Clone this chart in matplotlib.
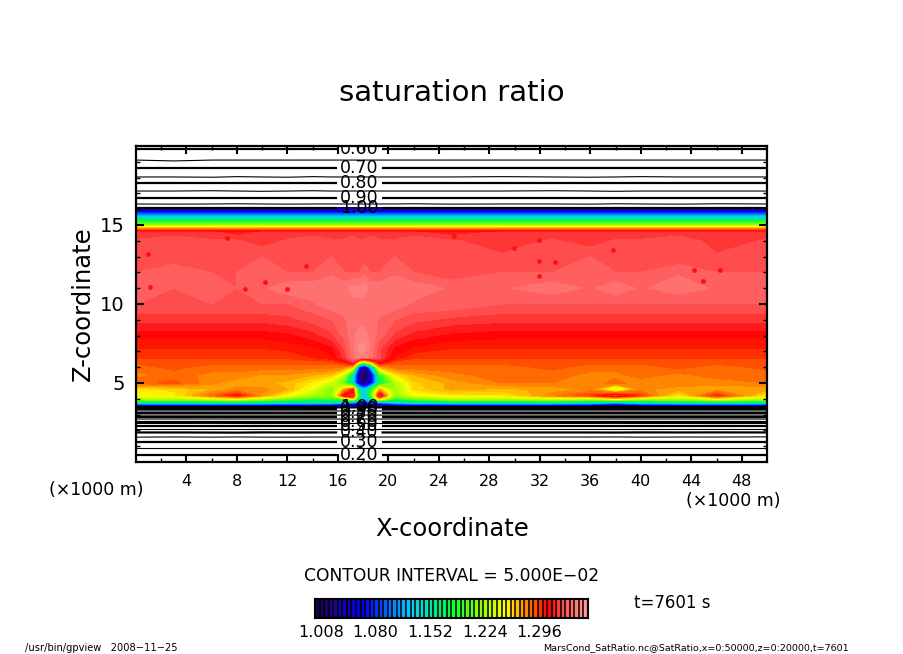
import matplotlib
matplotlib.use('Agg')
import matplotlib.pyplot as plt
from matplotlib.colors import LinearSegmentedColormap

W, H = 904, 654

# x positions of the table columns (km), denser around the tower at x=18
x_cols = [0, 3, 6, 8, 10, 12, 14, 15.5, 16.5, 17.2, 17.7, 18.1, 18.6, 19.3, 20.5,
          22, 25, 29, 33, 36, 38, 40, 43, 46, 50]

# heights of the table rows (km)
z_rows = [0.0, 0.44, 0.89, 1.27, 1.58, 1.87, 2.09, 2.28, 2.44, 2.56, 2.72, 2.85, 2.97,
          3.10, 3.23, 3.35, 3.42, 3.48,
          3.6, 3.75, 3.95, 4.2, 4.6, 5.0, 5.5, 6.0, 6.3, 6.6, 7.2, 8.0, 9.0, 10.0, 11.0,
          12.0, 13.0, 14.0, 14.5, 14.65, 14.8, 15.0, 15.3, 15.6, 15.85,
          16.08, 16.33, 16.7, 17.15, 17.63, 18.04, 18.6, 19.11, 19.81, 20.0]

# saturation ratio, one row per z_rows entry
sat_ratio = [
    [.170, .170, .170, .170, .170, .170, .170, .170, .170, .170, .170, .170, .170, .170, .170, .170, .170, .170, .170, .170, .170, .170, .170, .170, .170],
    [.200, .200, .200, .200, .200, .200, .200, .200, .200, .200, .200, .200, .200, .200, .200, .200, .200, .200, .200, .200, .200, .200, .200, .200, .200],
    [.250, .250, .250, .250, .250, .250, .250, .250, .250, .250, .250, .250, .250, .250, .250, .250, .250, .250, .250, .250, .250, .250, .250, .250, .250],
    [.300, .300, .300, .300, .300, .300, .300, .300, .300, .300, .300, .300, .300, .300, .300, .300, .300, .300, .300, .300, .300, .300, .300, .300, .300],
    [.351, .349, .351, .349, .351, .351, .350, .350, .350, .350, .350, .350, .350, .350, .350, .350, .350, .350, .350, .350, .349, .351, .350, .350, .348],
    [.400, .400, .401, .402, .399, .400, .400, .400, .400, .400, .400, .400, .400, .400, .400, .400, .400, .400, .400, .400, .401, .399, .400, .399, .400],
    [.450, .450, .450, .450, .450, .450, .450, .450, .450, .450, .450, .450, .450, .450, .450, .450, .450, .450, .450, .450, .450, .450, .450, .450, .450],
    [.500, .500, .500, .500, .500, .500, .500, .500, .500, .500, .500, .500, .500, .500, .500, .500, .500, .500, .500, .500, .500, .500, .500, .500, .500],
    [.550, .550, .548, .550, .552, .550, .550, .550, .550, .550, .550, .550, .550, .550, .550, .550, .550, .550, .550, .550, .548, .550, .550, .552, .550],
    [.600, .600, .600, .600, .600, .600, .600, .600, .600, .600, .600, .600, .600, .600, .600, .600, .600, .600, .600, .600, .600, .600, .600, .600, .600],
    [.650, .650, .650, .650, .650, .650, .650, .650, .650, .650, .650, .650, .650, .650, .650, .650, .650, .650, .650, .650, .650, .650, .650, .650, .650],
    [.700, .700, .700, .700, .700, .700, .700, .700, .700, .700, .700, .700, .700, .700, .700, .700, .700, .700, .700, .700, .700, .700, .700, .700, .700],
    [.750, .750, .750, .750, .750, .750, .750, .750, .750, .750, .750, .750, .750, .750, .750, .750, .750, .750, .750, .750, .750, .750, .750, .750, .750],
    [.800, .800, .800, .800, .800, .800, .800, .800, .800, .800, .800, .800, .800, .800, .800, .800, .800, .800, .800, .800, .800, .800, .800, .800, .800],
    [.850, .850, .850, .850, .850, .850, .850, .850, .850, .850, .850, .850, .850, .850, .850, .850, .850, .850, .850, .850, .850, .850, .850, .850, .850],
    [.900, .900, .900, .900, .900, .900, .900, .900, .900, .900, .900, .900, .900, .900, .900, .900, .900, .900, .900, .900, .900, .900, .900, .900, .900],
    [.950, .950, .950, .950, .950, .950, .950, .950, .950, .950, .950, .950, .950, .950, .950, .950, .950, .950, .950, .950, .950, .950, .950, .950, .950],
    [1.00, 1.00, 1.00, 1.00, 1.00, 1.00, 1.00, 1.00, 1.00, 1.00, 1.00, 1.00, 1.00, 1.00, 1.00, 1.00, 1.00, 1.00, 1.00, 1.00, 1.00, 1.00, 1.00, 1.00, 1.00],
    [1.06, 1.06, 1.06, 1.06, 1.06, 1.06, 1.06, 1.05, 1.04, 1.03, 1.02, 1.02, 1.02, 1.03, 1.04, 1.06, 1.06, 1.06, 1.06, 1.05, 1.03, 1.05, 1.06, 1.06, 1.06],
    [1.15, 1.15, 1.15, 1.15, 1.15, 1.14, 1.14, 1.14, 1.12, 1.10, 1.08, 1.06, 1.08, 1.10, 1.13, 1.14, 1.15, 1.15, 1.15, 1.14, 1.12, 1.14, 1.15, 1.15, 1.15],
    [1.22, 1.22, 1.23, 1.24, 1.22, 1.20, 1.19, 1.19, 1.20, 1.24, 1.15, 1.12, 1.14, 1.25, 1.18, 1.20, 1.22, 1.22, 1.23, 1.22, 1.24, 1.22, 1.22, 1.24, 1.22],
    [1.25, 1.255, 1.285, 1.305, 1.275, 1.25, 1.225, 1.22, 1.31, 1.32, 1.17, 1.12, 1.20, 1.32, 1.22, 1.245, 1.255, 1.255, 1.28, 1.295, 1.32, 1.295, 1.255, 1.30, 1.255],
    [1.255, 1.26, 1.27, 1.278, 1.278, 1.27, 1.245, 1.21, 1.27, 1.30, 1.15, 1.12, 1.18, 1.27, 1.22, 1.26, 1.272, 1.268, 1.272, 1.278, 1.23, 1.278, 1.272, 1.272, 1.272],
    [1.285, 1.29, 1.278, 1.272, 1.272, 1.268, 1.255, 1.235, 1.20, 1.14, 1.03, 1.02, 1.05, 1.17, 1.225, 1.262, 1.272, 1.282, 1.282, 1.278, 1.285, 1.278, 1.282, 1.278, 1.282],
    [1.28, 1.285, 1.28, 1.28, 1.275, 1.275, 1.27, 1.265, 1.235, 1.15, 1.015, 1.005, 1.03, 1.19, 1.255, 1.27, 1.28, 1.285, 1.285, 1.28, 1.28, 1.285, 1.28, 1.285, 1.285],
    [1.285, 1.29, 1.285, 1.285, 1.285, 1.285, 1.285, 1.285, 1.28, 1.26, 1.07, 1.02, 1.12, 1.27, 1.285, 1.285, 1.285, 1.285, 1.29, 1.285, 1.285, 1.285, 1.29, 1.285, 1.29],
    [1.29, 1.29, 1.29, 1.29, 1.29, 1.29, 1.29, 1.29, 1.30, 1.32, 1.24, 1.22, 1.26, 1.31, 1.29, 1.29, 1.29, 1.29, 1.29, 1.29, 1.29, 1.29, 1.29, 1.29, 1.29],
    [1.295, 1.295, 1.295, 1.295, 1.295, 1.295, 1.30, 1.305, 1.32, 1.338, 1.345, 1.345, 1.338, 1.325, 1.305, 1.295, 1.295, 1.295, 1.295, 1.295, 1.295, 1.295, 1.295, 1.295, 1.295],
    [1.30, 1.30, 1.30, 1.30, 1.30, 1.302, 1.305, 1.31, 1.325, 1.34, 1.35, 1.35, 1.34, 1.325, 1.31, 1.305, 1.30, 1.30, 1.30, 1.30, 1.30, 1.30, 1.30, 1.30, 1.30],
    [1.308, 1.308, 1.308, 1.308, 1.308, 1.31, 1.315, 1.322, 1.332, 1.34, 1.345, 1.345, 1.34, 1.333, 1.322, 1.315, 1.31, 1.308, 1.308, 1.308, 1.308, 1.308, 1.308, 1.308, 1.308],
    [1.32, 1.32, 1.32, 1.32, 1.32, 1.322, 1.326, 1.33, 1.335, 1.34, 1.34, 1.34, 1.34, 1.335, 1.33, 1.326, 1.322, 1.32, 1.32, 1.32, 1.32, 1.32, 1.32, 1.32, 1.32],
    [1.33, 1.33, 1.33, 1.33, 1.33, 1.33, 1.335, 1.34, 1.34, 1.34, 1.34, 1.34, 1.34, 1.34, 1.34, 1.335, 1.335, 1.33, 1.33, 1.33, 1.33, 1.33, 1.33, 1.33, 1.33],
    [1.335, 1.33, 1.335, 1.33, 1.335, 1.34, 1.34, 1.34, 1.34, 1.345, 1.345, 1.345, 1.34, 1.34, 1.34, 1.34, 1.335, 1.335, 1.34, 1.335, 1.34, 1.335, 1.34, 1.335, 1.335],
    [1.33, 1.335, 1.33, 1.33, 1.335, 1.33, 1.33, 1.335, 1.33, 1.33, 1.33, 1.335, 1.33, 1.33, 1.335, 1.33, 1.325, 1.33, 1.33, 1.335, 1.33, 1.33, 1.335, 1.33, 1.33],
    [1.33, 1.325, 1.33, 1.33, 1.33, 1.325, 1.33, 1.33, 1.325, 1.33, 1.33, 1.325, 1.33, 1.33, 1.33, 1.325, 1.33, 1.325, 1.33, 1.33, 1.325, 1.33, 1.325, 1.325, 1.33],
    [1.325, 1.33, 1.325, 1.325, 1.32, 1.325, 1.33, 1.325, 1.325, 1.33, 1.325, 1.325, 1.33, 1.325, 1.325, 1.33, 1.325, 1.32, 1.325, 1.32, 1.325, 1.325, 1.33, 1.32, 1.325],
    [1.32, 1.32, 1.32, 1.315, 1.32, 1.32, 1.32, 1.32, 1.32, 1.32, 1.32, 1.32, 1.32, 1.32, 1.32, 1.32, 1.315, 1.32, 1.32, 1.32, 1.32, 1.32, 1.32, 1.32, 1.32],
    [1.30, 1.30, 1.30, 1.30, 1.30, 1.30, 1.30, 1.30, 1.30, 1.30, 1.30, 1.30, 1.30, 1.30, 1.30, 1.30, 1.30, 1.30, 1.30, 1.30, 1.30, 1.30, 1.30, 1.30, 1.30],
    [1.27, 1.27, 1.27, 1.27, 1.27, 1.27, 1.27, 1.27, 1.27, 1.27, 1.27, 1.27, 1.27, 1.27, 1.27, 1.27, 1.27, 1.27, 1.27, 1.27, 1.27, 1.27, 1.27, 1.27, 1.27],
    [1.22, 1.22, 1.22, 1.22, 1.22, 1.22, 1.22, 1.22, 1.22, 1.22, 1.22, 1.22, 1.22, 1.22, 1.22, 1.22, 1.22, 1.22, 1.22, 1.22, 1.22, 1.22, 1.22, 1.22, 1.22],
    [1.17, 1.17, 1.17, 1.17, 1.17, 1.17, 1.17, 1.17, 1.17, 1.17, 1.17, 1.17, 1.17, 1.17, 1.17, 1.17, 1.17, 1.17, 1.17, 1.17, 1.17, 1.17, 1.17, 1.17, 1.17],
    [1.11, 1.11, 1.11, 1.11, 1.11, 1.11, 1.11, 1.11, 1.11, 1.11, 1.11, 1.11, 1.11, 1.11, 1.11, 1.11, 1.11, 1.11, 1.11, 1.11, 1.11, 1.11, 1.11, 1.11, 1.11],
    [1.06, 1.06, 1.06, 1.06, 1.06, 1.06, 1.06, 1.06, 1.06, 1.06, 1.06, 1.06, 1.06, 1.06, 1.06, 1.06, 1.06, 1.06, 1.06, 1.06, 1.06, 1.06, 1.06, 1.06, 1.06],
    [1.00, 1.00, 1.00, 1.00, 1.00, 1.00, 1.00, 1.00, 1.00, 1.00, 1.00, 1.00, 1.00, 1.00, 1.00, 1.00, 1.00, 1.00, 1.00, 1.00, 1.00, 1.00, 1.00, 1.00, 1.00],
    [.950, .948, .950, .952, .950, .948, .950, .950, .950, .950, .950, .950, .950, .950, .950, .952, .948, .950, .950, .948, .952, .950, .948, .952, .950],
    [.900, .900, .900, .900, .900, .900, .900, .900, .900, .900, .900, .900, .900, .900, .900, .900, .900, .900, .900, .900, .900, .900, .900, .900, .900],
    [.850, .850, .852, .850, .848, .850, .852, .850, .850, .850, .850, .850, .850, .850, .850, .850, .850, .850, .852, .850, .848, .850, .850, .850, .850],
    [.800, .800, .800, .800, .800, .800, .800, .800, .800, .800, .800, .800, .800, .800, .800, .800, .800, .800, .800, .800, .800, .800, .800, .800, .800],
    [.750, .750, .748, .752, .750, .748, .752, .750, .750, .750, .750, .750, .750, .750, .750, .750, .750, .752, .750, .748, .750, .752, .750, .750, .750],
    [.700, .700, .700, .700, .700, .700, .700, .700, .700, .700, .700, .700, .700, .700, .700, .700, .700, .700, .700, .700, .700, .700, .700, .700, .700],
    [.650, .644, .650, .650, .650, .650, .650, .650, .650, .650, .650, .650, .650, .650, .650, .650, .650, .650, .650, .650, .650, .650, .650, .650, .650],
    [.600, .600, .600, .600, .600, .600, .600, .600, .600, .600, .600, .600, .600, .600, .600, .600, .600, .600, .600, .600, .600, .600, .600, .600, .600],
    [.580, .580, .580, .580, .580, .580, .580, .580, .580, .580, .580, .580, .580, .580, .580, .580, .580, .580, .580, .580, .580, .580, .580, .580, .580],
]

# small saturated spots in the upper cloud
spot_x = [25.2, 29.95, 31.9, 31.9, 33.2, 31.9, 37.8, 44.2, 46.3, 44.9, 0.95, 7.2, 13.5, 1.1, 8.6, 12.0, 10.2]
spot_z = [14.3, 13.54, 14.07, 12.74, 12.66, 11.77, 13.42, 12.15, 12.15, 11.47, 13.16, 14.18, 12.4, 11.1, 10.95, 10.95, 11.4]

fill_levels = [1.0 + 0.006 * i for i in range(61)]
line_major = [0.20, 0.30, 0.40, 0.50, 0.60, 0.70, 0.80, 0.90, 1.00]
line_minor = [0.25, 0.35, 0.45, 0.55, 0.65, 0.75, 0.85, 0.95]

x_ticks = [4, 8, 12, 16, 20, 24, 28, 32, 36, 40, 44, 48]
z_ticks = [5, 10, 15]
bar_ticks = [1.008, 1.080, 1.152, 1.224, 1.296]

# contour label heights, top group and bottom group
label_top = [19.81, 18.6, 17.63, 16.7, 16.08]
label_bottom = [0.44, 1.27, 1.87, 2.28, 2.56, 2.85, 3.10, 3.35, 3.48]

cmap = LinearSegmentedColormap.from_list('gpview', [
    (0.00, '#140040'), (0.06, '#20008c'), (0.18, '#0000ff'), (0.35, '#00d0ff'),
    (0.50, '#00ff40'), (0.62, '#a0ff00'), (0.70, '#ffff00'), (0.78, '#ff8000'),
    (0.855, '#ff0000'), (0.92, '#ff5a5a'), (1.00, '#ffa0a0')])


def px_axes(fig, left, top, right, bottom):
    return fig.add_axes([left / W, 1 - bottom / H, (right - left) / W, (bottom - top) / H])


def fig_text(fig, x, y, s, size, **kw):
    kw.setdefault('ha', 'center')
    fig.text(x / W, 1 - y / H, s, fontsize=size, va='center', color='black', **kw)


fig = plt.figure(figsize=(W / 100, H / 100), dpi=100, facecolor='white')
ax = px_axes(fig, 136, 146, 767, 462)

ax.contourf(x_cols, z_rows, sat_ratio, levels=fill_levels, cmap=cmap, vmin=1.0, vmax=1.36)
ax.scatter(spot_x, spot_z, s=12, marker='o', c='#ff1010', linewidths=0, zorder=2)

ax.contour(x_cols, z_rows, sat_ratio, levels=line_minor, colors='black', linewidths=0.8, zorder=3)
major = ax.contour(x_cols, z_rows, sat_ratio, levels=line_major, colors='black', linewidths=1.6, zorder=3)
ax.clabel(major, fmt='%.2f', fontsize=12.5, inline=True, inline_spacing=3,
          manual=[(17.7, z) for z in label_top + label_bottom])

ax.set_xlim(0, 50)
ax.set_ylim(0, 20)
ax.set_xticks(x_ticks)
ax.set_xticks(range(2, 50, 2), minor=True)
ax.set_yticks(z_ticks)
ax.set_yticks(range(1, 20), minor=True)
ax.tick_params(which='major', direction='in', top=True, right=True, length=6, width=1.5,
               labelsize=11.5, pad=9)
ax.tick_params(which='minor', direction='in', top=True, right=True, length=3, width=1)
ax.tick_params(axis='y', which='major', labelsize=14, pad=8)
for s in ax.spines.values():
    s.set_linewidth(1.6)

fig_text(fig, 452, 93, 'saturation ratio', 21)
fig_text(fig, 452, 529, 'X-coordinate', 17.5)
fig_text(fig, 83, 304, 'Z-coordinate', 17.5, rotation=90)
fig_text(fig, 96, 490, '(\u00d71000 m)', 12.5)
fig_text(fig, 733, 501, '(\u00d71000 m)', 12.5)
fig_text(fig, 452, 576, 'CONTOUR INTERVAL = 5.000E\u221202', 12.3)
fig_text(fig, 672, 603, 't=7601 s', 12)
fig_text(fig, 25, 648, '/usr/bin/gpview   2008\u221211\u221225', 7.1, ha='left')
fig_text(fig, 849, 648, 'MarsCond_SatRatio.nc@SatRatio,x=0:50000,z=0:20000,t=7601', 6.8, ha='right')

# colour bar: one cell per contour level with black separators
cax = px_axes(fig, 315, 599, 588, 618)
cell_mid = [[(a + b) / 2 for a, b in zip(fill_levels[:-1], fill_levels[1:])]]
cax.pcolormesh(fill_levels, [0, 1], cell_mid, cmap=cmap, vmin=1.0, vmax=1.36)
cax.vlines(fill_levels, 0, 1, colors='black', linewidths=1.1)
cax.set_xlim(fill_levels[0], fill_levels[-1])
cax.set_ylim(0, 1)
cax.set_yticks([])
cax.set_xticks(bar_ticks)
cax.set_xticklabels(['%.3f' % v for v in bar_ticks])
cax.tick_params(length=0, labelsize=11.5, pad=5)
for s in cax.spines.values():
    s.set_linewidth(1.5)

fig.savefig('out.png', dpi=100)
